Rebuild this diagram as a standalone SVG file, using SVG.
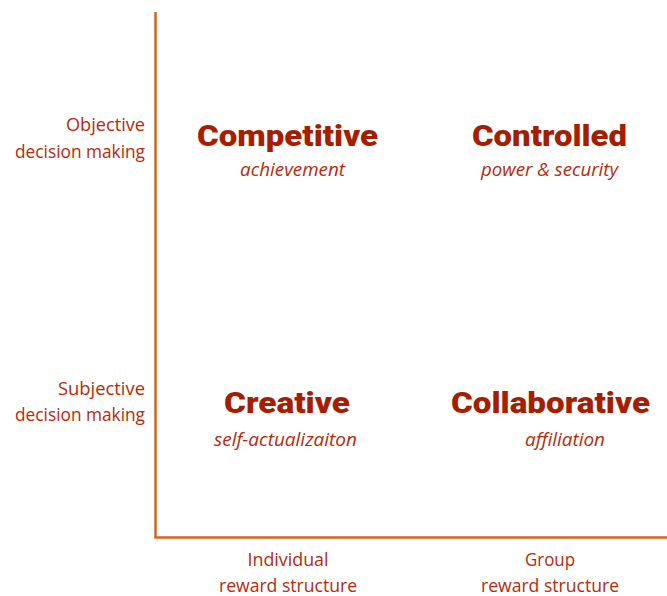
<svg xmlns="http://www.w3.org/2000/svg" width="667" height="596" viewBox="0 0 667 596">
<style>
.axis{stroke:#d0661f;stroke-width:2.5;fill:none}
.lab{font-family:"Open Sans","Liberation Sans",sans-serif;font-size:17.5px;fill:#b52a0a}
.r{text-anchor:end}
.c{text-anchor:middle}
.h{font-family:Roboto,"Liberation Sans",sans-serif;font-weight:900;font-size:30px;fill:#a61e00;text-anchor:middle}
.s{font-family:"Open Sans","Liberation Sans",sans-serif;font-style:italic;font-size:17.5px;fill:#b52a0a;text-anchor:middle}
</style>
<rect width="667" height="596" fill="#fff"/>
<g id="connectors">
<polyline class="axis" points="155.5,12 155.5,537.5 667,537.5"/>
</g>
<g id="y-labels">
<text class="lab r" x="145" y="131" textLength="79" lengthAdjust="spacingAndGlyphs">Objective</text>
<text class="lab r" x="145" y="158" textLength="130" lengthAdjust="spacingAndGlyphs">decision making</text>
<text class="lab r" x="145" y="395" textLength="87" lengthAdjust="spacingAndGlyphs">Subjective</text>
<text class="lab r" x="145" y="421" textLength="130" lengthAdjust="spacingAndGlyphs">decision making</text>
</g>
<g id="x-labels">
<text class="lab c" x="288" y="566" textLength="81" lengthAdjust="spacingAndGlyphs">Individual</text>
<text class="lab c" x="288" y="592" textLength="138" lengthAdjust="spacingAndGlyphs">reward structure</text>
<text class="lab c" x="550" y="566" textLength="50" lengthAdjust="spacingAndGlyphs">Group</text>
<text class="lab c" x="550" y="592" textLength="138" lengthAdjust="spacingAndGlyphs">reward structure</text>
</g>
<g id="competitive">
<text class="h" x="287.5" y="146" textLength="181" lengthAdjust="spacingAndGlyphs">Competitive</text>
<text class="s" x="292.5" y="176" textLength="105" lengthAdjust="spacingAndGlyphs">achievement</text>
</g>
<g id="controlled">
<text class="h" x="549.5" y="146" textLength="155" lengthAdjust="spacingAndGlyphs">Controlled</text>
<text class="s" x="549.5" y="176" textLength="137" lengthAdjust="spacingAndGlyphs">power &amp; security</text>
</g>
<g id="creative">
<text class="h" x="287" y="413" textLength="126" lengthAdjust="spacingAndGlyphs">Creative</text>
<text class="s" x="285.5" y="446" textLength="143" lengthAdjust="spacingAndGlyphs">self-actualizaiton</text>
</g>
<g id="collaborative">
<text class="h" x="550.5" y="413" textLength="199" lengthAdjust="spacingAndGlyphs">Collaborative</text>
<text class="s" x="565" y="446" textLength="80" lengthAdjust="spacingAndGlyphs">affiliation</text>
</g>
</svg>
